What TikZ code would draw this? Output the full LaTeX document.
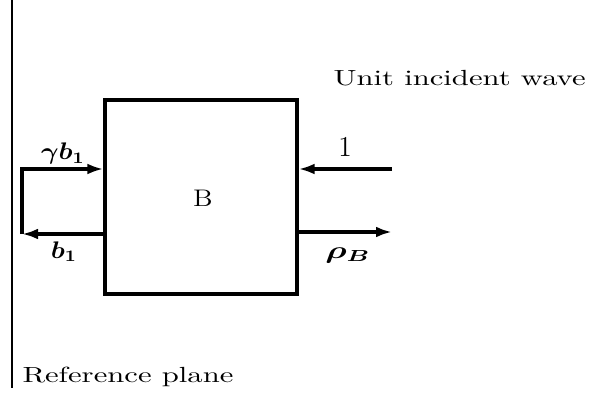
\documentclass[tikz,border=0pt]{standalone}
\usetikzlibrary{arrows.meta}

\tikzset{
  wire/.style={line width=1.6pt},
  sig/.style={wire, -{Latex[length=8pt,width=5.4pt]}},
  plane/.style={line width=1pt},
  txt/.style={inner sep=0pt, xscale=1.4, font=\fontsize{10.95}{13.6}\selectfont},
  lbl/.style={inner sep=0pt, anchor=base, xscale=1.12, font=\large},
}
\newcommand{\bmath}[1]{{\boldmath$#1$}}

\begin{document}
\begin{tikzpicture}[x=0.5pt, y=-0.5pt]
            \useasboundingbox (0,0) rectangle (592,400);

            % reference plane
            \coordinate (plTop) at (12,0);
            \coordinate (plBot) at (12,388);
            \draw[plane] (plTop) -- (plBot);
            \node[txt, anchor=base west] (plName) at (22,382) {Reference plane};

            % two-port block
            \node[draw, wire, minimum width=96pt, minimum height=97pt,
                  inner sep=0pt] (box) at (201,197) {};
            \node[lbl, xscale=1.05, anchor=center] (bName) at (203,198) {B};

            % loop on the left
            \coordinate (loopT) at (22,169);
            \coordinate (loopB) at (22,234);
            \draw[sig] (loopB) -- (loopT) -- (box.west |- loopT);
            \draw[sig] (box.west |- loopB) -- (loopB);
            \node[lbl] (gb) at (63,160) {\bmath{\gamma b_1}};
            \node[lbl] (bOne) at (64,258) {\bmath{b_1}};

            % right-hand port
            \coordinate (rIn) at (392,169);
            \coordinate (rOut) at (392,232);
            \draw[sig] (rIn) -- (box.east |- rIn);
            \draw[sig] (box.east |- rOut) -- (rOut);
            \node[lbl, xscale=0.85, font=\Large] (one) at (345,157) {1};
            \node[lbl, xscale=1.3] (rho) at (348,258) {\bmath{\rho_B}};

            \node[txt, anchor=base west] (unit) at (333,86) {Unit incident wave};
        \end{tikzpicture}
\end{document}
